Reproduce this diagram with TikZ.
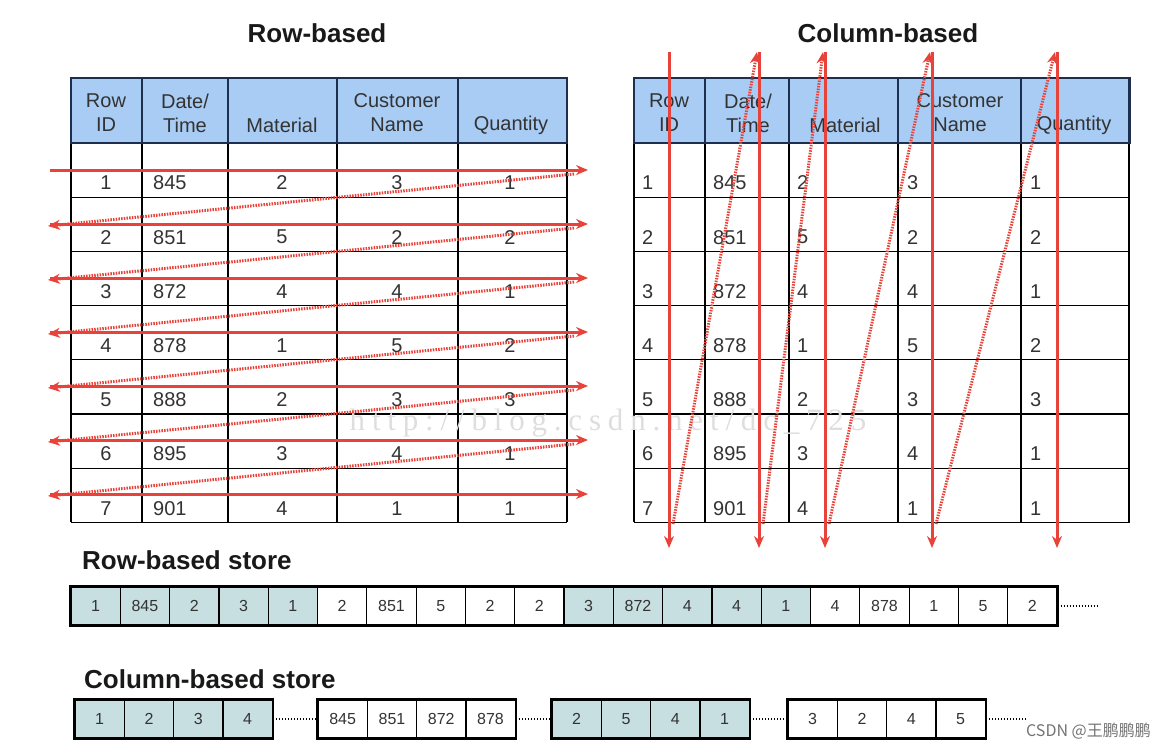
\documentclass[tikz,border=0pt]{standalone}
\usepackage{fontspec}
\setmainfont{Liberation Sans}
\newfontfamily\cjkfont{Noto Sans CJK SC}
\newfontfamily\wmfont[LetterSpace=22]{Liberation Serif}
\usetikzlibrary{arrows.meta}
\definecolor{hdrblue}{HTML}{A9CCF4}
\definecolor{hdrline}{HTML}{1E2E4E}
\definecolor{cellteal}{HTML}{C7DFE0}
\definecolor{arrowred}{HTML}{E8433A}
\definecolor{txtgray}{HTML}{333333}

\begin{document}
\begin{tikzpicture}[x=1pt,y=-1pt,
		hdr/.style={font=\fontsize{20}{24}\selectfont, text=txtgray, align=center, inner sep=0},
		val/.style={font=\fontsize{20}{22}\selectfont, text=txtgray, inner sep=0},
		ttl/.style={font=\fontsize{26}{30}\selectfont\bfseries, text=black!90, inner sep=0},
		scell/.style={draw, line width=1.2pt, minimum width=49.3pt, minimum height=38pt, inner sep=0,
			font=\fontsize{16}{18}\selectfont, text=txtgray},
		sweep/.style={arrowred, line width=3pt, -{Stealth[length=12pt,width=10pt]}},
		backsweep/.style={arrowred, line width=3pt, dash pattern=on 1.5pt off 1.2pt, -{Stealth[length=12pt,width=10pt]}},
		trail/.style={line width=1.3pt, dash pattern=on 1.5pt off 1.5pt}]
	\useasboundingbox (0,0) rectangle (1165,750);

	% titles
	\node[ttl] (rowtitle) at (317,33) {Row-based};
	\node[ttl] (coltitle) at (888,33) {Column-based};
	\node[ttl, anchor=west] (rstitle) at (82,560) {Row-based store};
	\node[ttl, anchor=west] (cstitle) at (84,679) {Column-based store};

	% the two tables
	\foreach \tx/\cols in {0/{71,142,228,337,458,567}, 563/{634,705,789,898,1021,1129}} {
		\fill[hdrblue] ({71+\tx},78) rectangle ({567+\tx},143);
		\foreach \r in {1,...,7}
			\draw[line width=1.3pt] ({71+\tx},{143+54.2*\r}) -- ({567+\tx},{143+54.2*\r});
		\foreach \x in \cols {
			\draw[line width=1.3pt] (\x,143) -- (\x,522.4);
			\draw[hdrline, line width=1.6pt] (\x,78) -- (\x,143);
		}
		\draw[hdrline, line width=2pt] ({71+\tx},78) rectangle ({567+\tx},143);
	}

	% header texts
	\foreach \hx/\hy/\txt [count=\i] in {106/113/{Row\\ID}, 185/113/{Date/\\Time}, 282/125/Material,
		397/113/{Customer\\Name}, 511/125/Quantity} {
		\node[hdr] (lh\i) at (\hx,\hy) {\txt};
		\node[hdr] (rh\i) at ({\hx+563},\hy) {\txt};
	}

	% row values
	\foreach \n/\a/\b/\c/\d [count=\r] in {1/845/2/3/1, 2/851/5/2/2, 3/872/4/4/1, 4/878/1/5/2,
		5/888/2/3/3, 6/895/3/4/1, 7/901/4/1/1} {
		\pgfmathsetmacro\ty{143+54.2*(\r-1)+40}
		\node[val] (l\r-id) at (106,\ty) {\n};
		\node[val, anchor=west] (l\r-dt) at (153,\ty) {\a};
		\node[val] (l\r-ma) at (282,\ty) {\b};
		\node[val] (l\r-cu) at (397,\ty) {\c};
		\node[val] (l\r-qu) at (510,\ty) {\d};
		\node[val, anchor=west] (r\r-id) at (642,\ty) {\n};
		\node[val, anchor=west] (r\r-dt) at (713,\ty) {\a};
		\node[val, anchor=west] (r\r-ma) at (797,\ty) {\b};
		\node[val, anchor=west] (r\r-cu) at (907,\ty) {\c};
		\node[val, anchor=west] (r\r-qu) at (1030,\ty) {\d};
	}

	% watermark
	\node[font=\wmfont\fontsize{31}{33}\selectfont, text=black!13, inner sep=0] (wmark) at (608,423) {http://blog.csdn.net/dc\_725};

	% row-wise scan
	\foreach \k in {1,...,7} {
		\coordinate (rowa\k) at (50,{170+54*(\k-1)});
		\coordinate (rowb\k) at (588,{170+54*(\k-1)});
		\draw[sweep] (rowa\k) -- (rowb\k);
	}
	\foreach \k [evaluate=\k as \nk using int(\k+1)] in {1,...,6}
		\draw[backsweep] ([xshift=-14pt,yshift=-4pt]rowb\k) -- ([xshift=-2pt,yshift=-2pt]rowa\nk);

	% column-wise scan
	\foreach \cx [count=\k] in {669,759,825,932,1057} {
		\coordinate (cola\k) at (\cx,52);
		\coordinate (colb\k) at (\cx,548);
		\draw[sweep] (cola\k) -- (colb\k);
	}
	\foreach \k [evaluate=\k as \nk using int(\k+1)] in {1,...,4}
		\draw[backsweep] ([xshift=4pt,yshift=24pt]colb\k) -- ([xshift=-2pt]cola\nk);

	% row-based store
	\foreach \v [count=\i from 0] in {1,845,2,3,1,2,851,5,2,2,3,872,4,4,1,4,878,1,5,2} {
		\pgfmathtruncatemacro\grp{mod(floor(\i/5),2)}
		\ifnum\grp=0 \def\fc{cellteal}\else\def\fc{white}\fi
		\node[scell, fill=\fc] (rs\i) at ({95.65+49.3*\i},606) {\v};
	}
	\draw[line width=2.6pt] (rs0.north west) rectangle (rs19.south east);
	\coordinate (rsend) at (1099,606);
	\draw[trail] (rs19.east) -- (rsend);

	% column-based store
	\foreach \gx/\vals/\fc [count=\g] in {75/{1,2,3,4}/cellteal, 318/{845,851,872,878}/white,
		552/{2,5,4,1}/cellteal, 788/{3,2,4,5}/white} {
		\foreach \v [count=\j from 0] in \vals
			\node[scell, fill=\fc] (cs\g-\j) at ({\gx+24.65+49.3*\j},719) {\v};
		\draw[line width=2.6pt] (cs\g-0.north west) rectangle (cs\g-3.south east);
	}
	\foreach \g [evaluate=\g as \ng using int(\g+1)] in {1,2,3}
		\draw[trail] (cs\g-3.east) -- (cs\ng-0.west);
	\coordinate (csend) at (1026,719);
	\draw[trail] (cs4-3.east) -- (csend);

	\node[font=\cjkfont\fontsize{16}{18}\selectfont, text=black!55, anchor=east, inner sep=0] (csdn) at (1151,731) {CSDN @王鹏鹏鹏};
\end{tikzpicture}
\end{document}
